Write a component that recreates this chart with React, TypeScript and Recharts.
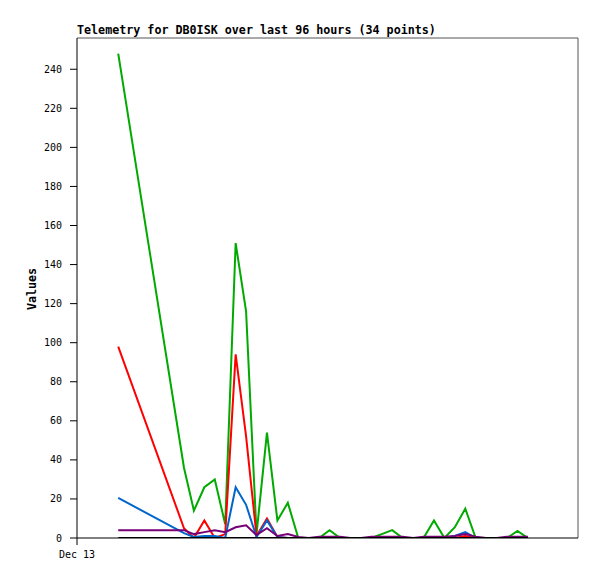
import { LineChart, Line, XAxis, YAxis, ReferenceLine } from "recharts";

// hours since Dec 13 00:00
const hours = [
  7.9, 20.5, 22.4, 24.4, 26.4, 28.4, 30.4, 32.4, 34.4, 36.4, 38.4, 40.4,
  42.4, 44.4, 46.4, 48.4, 50.4, 52.4, 54.4, 56.4, 58.4, 60.4, 62.4, 64.4,
  66.4, 68.4, 70.4, 72.4, 74.4, 76.4, 78.4, 80.4, 82.4, 84.4, 86.4,
];

const green = [
  248, 36, 14, 26, 30, 7, 151, 116, 2, 54, 9, 18, 0, 0, 0, 4, 0, 0, 0, 0, 2,
  4, 0, 0, 0, 9, 0, 5.5, 15, 0, 0, 0, 0, 3.6, 0,
];
const red = [
  98, 5, 0, 9, 0, 2, 94, 52, 1, 10, 0.5, 0, 0, 0, 0, 0, 0, 0, 0, 0, 0, 0, 0,
  0, 0, 0, 0, 0, 1, 0, 0, 0, 0, 0, 0,
];
const blue = [
  20.5, 2.5, 0.5, 1, 1, 0, 26, 17, 0.5, 9, 0.5, 0, 0, 0, 0, 0, 0, 0, 0, 0, 0,
  0, 0, 0, 0, 0, 0, 1, 3, 0, 0, 0, 0, 0, 0,
];
const purple = [
  4, 4, 2, 3, 4, 3, 5.5, 6.5, 1.5, 5, 1, 2, 0.5, 0, 0.7, 0.7, 0.7, 0, 0, 0.7,
  0.7, 0.7, 0.7, 0, 0.7, 0.7, 0.7, 1, 2, 0.7, 0, 0, 0.7, 0.7, 0.7,
];
const black = hours.map(() => 0);

const yTicks = [0, 20, 40, 60, 80, 100, 120, 140, 160, 180, 200, 220, 240];

const data = hours.map((h, i) => ({
  t: h,
  green: green[i],
  red: red[i],
  blue: blue[i],
  purple: purple[i],
  black: black[i],
}));

const FONT = "'DejaVu Sans Mono', 'Liberation Mono', monospace";

const series = [
  { key: "green", color: "#00aa00" },
  { key: "red", color: "#ff0000" },
  { key: "blue", color: "#0066cc" },
  { key: "purple", color: "#770077" },
  { key: "black", color: "#000000" },
];

export default function App() {
  return (
    <div
      style={{
        position: "absolute",
        left: 0,
        top: 0,
        width: 597,
        height: 579,
        background: "#fff",
        fontFamily: FONT,
      }}
    >
      <div
        style={{
          position: "absolute",
          left: 77,
          top: 23,
          fontSize: 11.7,
          fontWeight: "bold",
          whiteSpace: "nowrap",
          lineHeight: "14px",
        }}
      >
        Telemetry for DB0ISK over last 96 hours (34 points)
      </div>
      <div
        style={{
          position: "absolute",
          left: 32,
          top: 289,
          fontSize: 11.7,
          fontWeight: "bold",
          transform: "translate(-50%, -50%) rotate(-90deg)",
          whiteSpace: "nowrap",
        }}
      >
        Values
      </div>
      <LineChart
        width={597}
        height={579}
        data={data}
        margin={{ top: 38, right: 19, bottom: 11, left: 17 }}
      >
        <XAxis
          dataKey="t"
          type="number"
          domain={[0, 96]}
          ticks={[0]}
          tickFormatter={() => "Dec 13"}
          height={30}
          stroke="#000"
          tickSize={7}
          tickMargin={6}
          tick={{ fill: "#000", fontSize: 10, fontFamily: FONT }}
          allowDataOverflow
        />
        <YAxis
          type="number"
          domain={[0, 256]}
          ticks={yTicks}
          width={60}
          stroke="#000"
          tickSize={7}
          tickMargin={8}
          tick={{ fill: "#000", fontSize: 10, fontFamily: FONT }}
          allowDataOverflow
        />
        <ReferenceLine y={256} stroke="#555" ifOverflow="visible" />
        <ReferenceLine x={96} stroke="#555" ifOverflow="visible" />
        {series.map((s) => (
          <Line
            key={s.key}
            dataKey={s.key}
            stroke={s.color}
            strokeWidth={2}
            dot={false}
            activeDot={false}
            isAnimationActive={false}
          />
        ))}
      </LineChart>
    </div>
  );
}
